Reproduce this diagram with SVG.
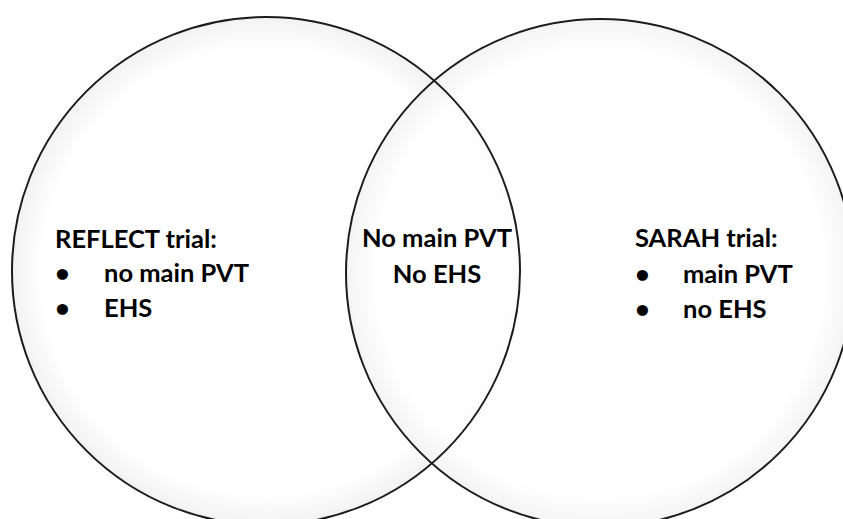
<svg xmlns="http://www.w3.org/2000/svg" width="843" height="519" viewBox="0 0 843 519">
<defs>
<radialGradient id="soft" cx="50%" cy="50%" r="50%">
<stop offset="0.88" stop-color="#ffffff"/>
<stop offset="1" stop-color="#f2f2f2"/>
</radialGradient>
<style>
.fill{fill:url(#soft);stroke:none}
.ring{fill:none;stroke:#1c1c1c;stroke-width:2}
.t{font-family:Lato,"Open Sans","Liberation Sans",sans-serif;font-weight:bold;font-size:25.5px;fill:#000}
.c{text-anchor:middle}
</style>
</defs>
<rect width="843" height="519" fill="#ffffff"/>
<g id="backgrounds">
<circle class="fill" cx="266" cy="271" r="254"/>
<circle class="fill" cx="600" cy="273" r="254" fill-opacity="0.85"/>
</g>
<g id="reflect">
<circle class="ring" cx="266" cy="271" r="254"/>
<text class="t" x="55" y="248">REFLECT trial:</text>
<text class="t" x="55" y="282">•</text>
<text class="t" x="104" y="282">no main PVT</text>
<text class="t" x="55" y="317">•</text>
<text class="t" x="104" y="317">EHS</text>
</g>
<g id="sarah">
<circle class="ring" cx="600" cy="273" r="254"/>
<text class="t" x="635" y="247">SARAH trial:</text>
<text class="t" x="635" y="283">•</text>
<text class="t" x="683" y="283">main PVT</text>
<text class="t" x="635" y="318">•</text>
<text class="t" x="683" y="318">no EHS</text>
</g>
<g id="overlap">
<text class="t c" x="437" y="247">No main PVT</text>
<text class="t c" x="437" y="283">No EHS</text>
</g>
<g id="connectors"/>
</svg>
